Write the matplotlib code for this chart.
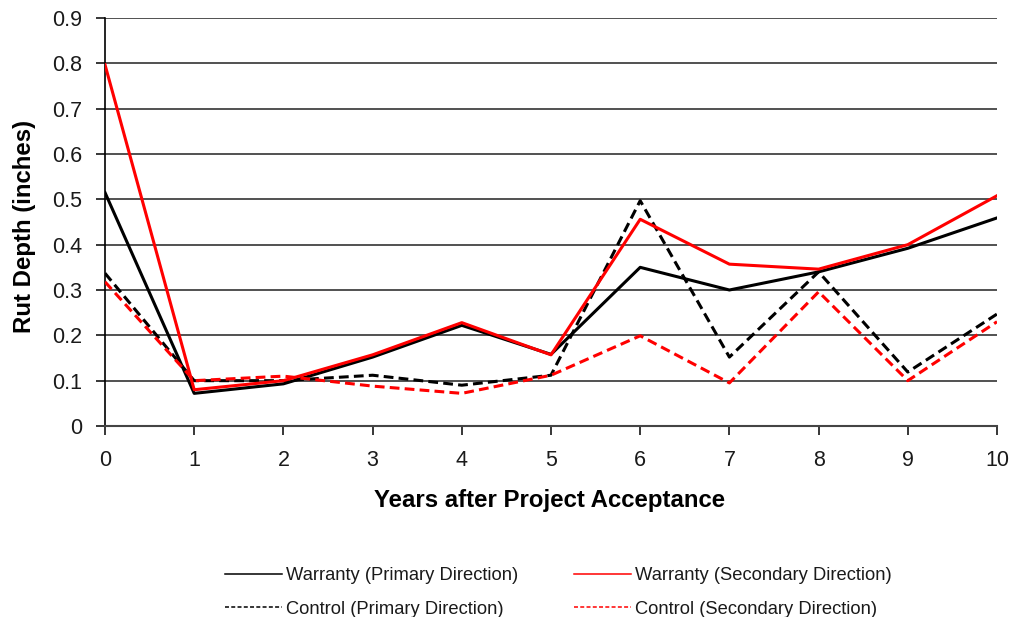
import matplotlib
matplotlib.use("Agg")
import matplotlib.pyplot as plt
from matplotlib.lines import Line2D

years = list(range(11))
warranty_primary = [0.515, 0.072, 0.093, 0.152, 0.222, 0.158, 0.35, 0.30, 0.34, 0.392, 0.459]
warranty_secondary = [0.797, 0.08, 0.10, 0.157, 0.228, 0.157, 0.456, 0.357, 0.346, 0.40, 0.508]
control_primary = [0.337, 0.10, 0.10, 0.112, 0.09, 0.112, 0.497, 0.152, 0.34, 0.119, 0.247]
control_secondary = [0.318, 0.10, 0.11, 0.088, 0.072, 0.112, 0.199, 0.095, 0.296, 0.10, 0.23]
y_ticks = [0, 0.1, 0.2, 0.3, 0.4, 0.5, 0.6, 0.7, 0.8, 0.9]
y_tick_labels = ["0", "0.1", "0.2", "0.3", "0.4", "0.5", "0.6", "0.7", "0.8", "0.9"]
series_labels = ["Warranty (Primary Direction)", "Warranty (Secondary Direction)",
                 "Control (Primary Direction)", "Control (Secondary Direction)"]

plt.rcParams['font.family'] = ['Liberation Sans', 'DejaVu Sans']

W, H = 1015, 617
fig = plt.figure(figsize=(W / 100, H / 100), dpi=100)
ax = fig.add_axes([105 / W, 1 - 426 / H, (997 - 105) / W, (426 - 18) / H])

for v in y_ticks[1:]:
    ax.axhline(v, color='#222222', lw=1.1, zorder=1)

dash = (0, (3.2, 1.7))
ax.plot(years, warranty_primary, color='black', lw=2.2, ls='-', zorder=3)
ax.plot(years, warranty_secondary, color='#ff0000', lw=2.2, ls='-', zorder=4)
ax.plot(years, control_primary, color='black', lw=2.2, ls=dash, zorder=3)
ax.plot(years, control_secondary, color='#ff0000', lw=2.2, ls=dash, zorder=3)

ax.set_xlim(0, 10)
ax.set_ylim(0, 0.9)
ax.set_xticks(years)
ax.set_yticks(y_ticks)
ax.set_yticklabels(y_tick_labels)
ax.tick_params(axis='both', direction='out', length=6.3, width=1.1, labelsize=15.5,
               color='black', labelcolor='#1a1a1a')
ax.tick_params(axis='y', pad=10)
ax.tick_params(axis='x', pad=11)

for s in ['top', 'right']:
    ax.spines[s].set_visible(False)
ax.spines['left'].set_linewidth(1.2)
ax.spines['bottom'].set_linewidth(1.5)
ax.spines['bottom'].set_color('#444444')

ax.set_ylabel("Rut Depth (inches)", fontsize=17.3, fontweight='bold', va='center')
ax.yaxis.set_label_coords((24 - 105) / 892, (426 - 226.5) / 408)
ax.set_xlabel("Years after Project Acceptance", fontsize=17.3, fontweight='bold', va='center')
ax.xaxis.set_label_coords((550 - 105) / 892, (426 - 500) / 408)

# Legend (manual layout to match reference)
leg_dash = (0, (2.6, 1.5))
legend_items = [
    (series_labels[0], 'black', '-', 225, 282, 574),
    (series_labels[1], '#ff0000', '-', 574, 631, 574),
    (series_labels[2], 'black', leg_dash, 225, 282, 607),
    (series_labels[3], '#ff0000', leg_dash, 574, 631, 607),
]
for text, c, ls, x0, x1, yy in legend_items:
    fig.add_artist(Line2D([x0 / W, x1 / W], [1 - yy / H, 1 - yy / H], color=c, lw=1.1,
                          ls=ls, transform=fig.transFigure))
    fig.text((x1 + 4) / W, 1 - yy / H, text, fontsize=13.2, va='center_baseline',
             ha='left', color='#1a1a1a')

fig.savefig("out.png", dpi=100)
